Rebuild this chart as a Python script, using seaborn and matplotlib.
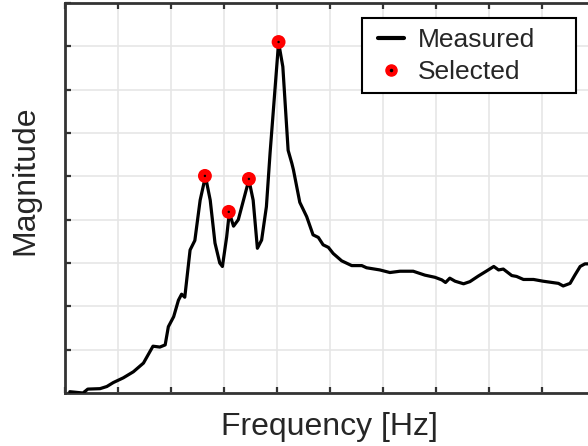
import numpy as np
import pandas as pd
import seaborn as sns
import matplotlib.pyplot as plt
from matplotlib.lines import Line2D
from matplotlib.patches import Rectangle

# measured spectrum (arbitrary units)
freq = [0.09, 0.34, 0.43, 0.66, 0.79, 0.91, 1.10, 1.29, 1.48, 1.66, 1.79, 1.89, 1.95,
        2.05, 2.14, 2.20, 2.26, 2.36, 2.45, 2.55, 2.65, 2.74, 2.83, 2.92, 2.97, 3.05,
        3.10, 3.18, 3.27, 3.40, 3.47, 3.55, 3.63, 3.71, 3.80, 3.87, 4.03, 4.11, 4.21,
        4.28, 4.31, 4.43, 4.56, 4.68, 4.78, 4.87, 4.97, 5.06, 5.22, 5.41, 5.60, 5.69,
        5.94, 6.13, 6.32, 6.57, 6.79, 6.98, 7.11, 7.18, 7.26, 7.36, 7.52, 7.64, 7.80,
        7.96, 8.09, 8.18, 8.27, 8.43, 8.52, 8.65, 8.84, 9.02, 9.31, 9.40, 9.53, 9.62,
        9.72, 9.81, 9.87, 10.0]
mag = [0.03, 0.00, 0.09, 0.10, 0.15, 0.24, 0.35, 0.49, 0.69, 1.08, 1.06, 1.11, 1.53,
       1.76, 2.14, 2.28, 2.21, 3.30, 3.52, 4.45, 5.00, 4.45, 3.46, 3.00, 2.92, 3.60,
       4.16, 3.85, 4.00, 4.60, 4.92, 4.45, 3.34, 3.53, 4.30, 5.55, 8.09, 7.53, 5.60,
       5.30, 5.15, 4.40, 4.07, 3.65, 3.59, 3.42, 3.36, 3.22, 3.05, 2.94, 2.94, 2.89,
       2.84, 2.78, 2.81, 2.81, 2.72, 2.67, 2.61, 2.55, 2.65, 2.58, 2.52, 2.57, 2.70,
       2.82, 2.92, 2.84, 2.86, 2.71, 2.69, 2.62, 2.62, 2.58, 2.53, 2.47, 2.53, 2.72,
       2.92, 2.98, 2.98, 2.98]

# selected peaks
sel_freq = [2.64, 3.09, 3.47, 4.03]
sel_mag = [5.01, 4.18, 4.94, 8.10]

df = pd.DataFrame({'freq': freq, 'mag': mag})
sel = pd.DataFrame({'freq': sel_freq, 'mag': sel_mag})

sns.set_style('white')
plt.rcParams['font.family'] = ['Liberation Sans', 'DejaVu Sans']

fig = plt.figure(figsize=(5.88, 4.46), dpi=100)
ax = fig.add_axes([65/588, 53/446, 530/588, 390/446])

sns.lineplot(data=df, x='freq', y='mag', color='black', linewidth=2.3,
             sort=False, estimator=None, ax=ax, zorder=3)
sns.scatterplot(data=sel, x='freq', y='mag', color='red', s=100,
                edgecolor='none', ax=ax, zorder=4)
sns.scatterplot(data=sel, x='freq', y='mag', color='black', s=3,
                edgecolor='none', ax=ax, zorder=5)

ax.set_xlim(0, 10)
ax.set_ylim(0, 9)
ax.set_xticks(np.arange(0, 11, 1))
ax.set_yticks(np.arange(0, 10, 1))
ax.set_xticklabels([])
ax.set_yticklabels([])
ax.grid(True, color='#e6e6e6', linewidth=1.2)
ax.set_axisbelow(True)
ax.tick_params(direction='in', length=4, width=1.6, color='#333333',
               top=True, bottom=True, left=True, right=False)
for side in ['left', 'top', 'bottom']:
    ax.spines[side].set_color('#333333')
    ax.spines[side].set_linewidth(2)
ax.spines['right'].set_visible(False)

ax.set_xlabel('Frequency [Hz]', fontsize=23, color='#262626')
ax.set_ylabel('Magnitude', fontsize=23, color='#262626')
ax.xaxis.set_label_coords(0.498, -0.048)
ax.yaxis.set_label_coords(-0.046, 0.546)

# legend box (MATLAB-style, wide right margin)
ax.add_patch(Rectangle((0.5604, 0.7692), 0.4038, 0.1923, transform=ax.transAxes,
                       facecolor='white', edgecolor='black', linewidth=1.5,
                       zorder=10, clip_on=False))
h_meas = Line2D([], [], color='black', linewidth=3)
h_sel = (Line2D([], [], color='red', marker='o', linestyle='none', markersize=8),
         Line2D([], [], color='black', marker='o', linestyle='none', markersize=1.5))
leg = ax.legend([h_meas, h_sel], ['Measured', 'Selected'], loc='upper left',
                bbox_to_anchor=(0.5906, 0.935), borderaxespad=0, fontsize=19,
                frameon=False, handlelength=1.0, handletextpad=0.5,
                labelspacing=0.3, borderpad=0)
leg.set_zorder(11)

plt.savefig('out.png', dpi=100)
